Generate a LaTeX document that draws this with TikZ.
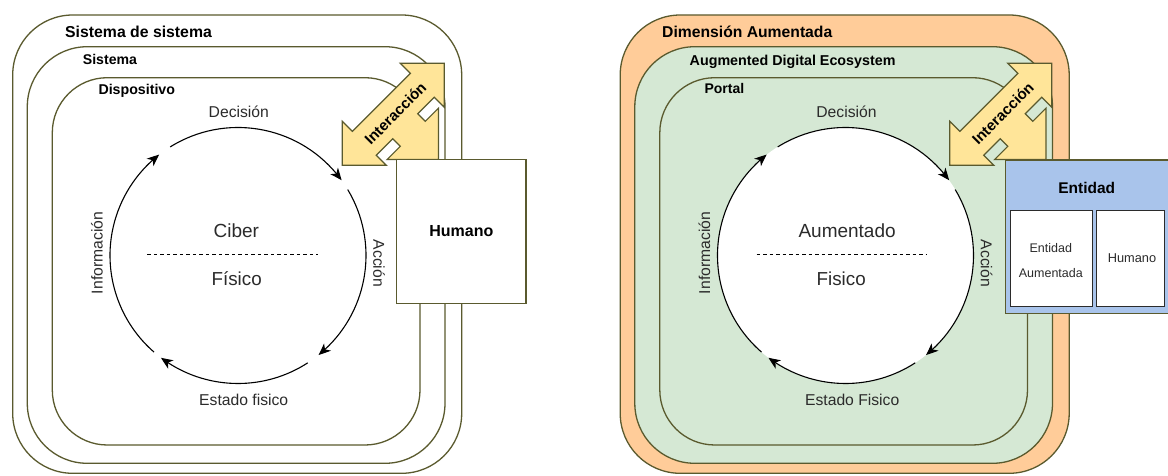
\documentclass[tikz,border=0pt]{standalone}
\usepackage{fontspec}
\setmainfont{Liberation Sans}
\usetikzlibrary{arrows.meta,bending}
\definecolor{frameol}{HTML}{5A5A2E}
\definecolor{argold}{HTML}{FFE599}
\definecolor{peach}{HTML}{FFCC99}
\definecolor{mint}{HTML}{D5E8D4}
\definecolor{skyb}{HTML}{A9C4EB}
\definecolor{txtgray}{HTML}{2B2B2B}
\newcommand\fsz[1]{\fontsize{#1pt}{#1pt}\selectfont}

\tikzset{
  % two-headed diagonal arrow with right-angled heads
  interarrow/.pic={
    \draw[fill=argold, draw=frameol, line width=1.2pt, line join=miter]
      (102,102) -- (58,102) -- (68.1,91.9) -- (10.1,33.9) -- (0,44) -- (0,0)
      -- (44,0) -- (33.9,10.1) -- (50.4,26.6) -- (58,19) -- (44.8,5.8)
      -- (96.2,5.8) -- (96.2,57.2) -- (83,44) -- (75.4,51.6) -- (91.9,68.1)
      -- (102,58) -- cycle;
    \node[rotate=45, inner sep=0pt, font=\fsz{15}\bfseries] (-txt) at (53,52) {Interacción};
  }
}

\begin{document}
\begin{tikzpicture}[x=1pt,y=1pt,
  frame/.style={draw=frameol, line width=1.3pt},
  cyc/.style={draw=black, line width=1.1pt, -{Stealth[length=12pt,width=10pt,inset=3.5pt,bend]}},
  sepline/.style={draw=black, line width=1pt, dash pattern=on 3.5pt off 3pt},
  tag/.style={anchor=base west, inner sep=0pt},
  cyctxt/.style={anchor=base, inner sep=0pt, text=txtgray},
  boxtxt/.style={inner sep=0pt, text=txtgray, font=\fontsize{12.5pt}{25pt}\selectfont, align=center}
]
\useasboundingbox (0,0) rectangle (1168,475);
\clip (0,0) rectangle (1168,475);

% ---------- left: cyber-physical system ----------
\draw[frame, fill=white, rounded corners=60pt] (12.7,1.7) rectangle (461.7,460);
\draw[frame, fill=white, rounded corners=60pt] (27.3,11.7) rectangle (445,428.3);
\draw[frame, fill=white, rounded corners=55pt] (52.3,30) rectangle (420,397.3);
\node[tag, font=\fsz{15.8}\bfseries] (l-sos) at (65,437.5) {Sistema de sistema};
\node[tag, font=\fsz{14.1}\bfseries] (l-sis) at (82.7,410) {Sistema};
\node[tag, font=\fsz{14.2}\bfseries] (l-dis) at (98.3,380) {Dispositivo};

% ---------- right: augmented dimension ----------
\draw[frame, fill=peach, rounded corners=60pt] (620.2,1.7) rectangle (1069.2,460);
\draw[frame, fill=mint, rounded corners=60pt] (634.8,11.7) rectangle (1052.5,428.3);
\draw[frame, fill=mint, rounded corners=55pt] (659.8,30) rectangle (1027.5,397.3);
\node[tag, font=\fsz{15.7}\bfseries] (r-dim) at (662,437.5) {Dimensión Aumentada};
\node[tag, font=\fsz{14.3}\bfseries] (r-ade) at (689.5,409) {Augmented Digital Ecosystem};
\node[tag, font=\fsz{14}\bfseries] (r-por) at (704.3,381) {Portal};

% ---------- cycles ----------
\coordinate (lc) at (238,219.5);
\coordinate (rc) at (845.5,219.5);
\fill[white] (rc) circle[radius=128];
\foreach \c in {lc,rc}{
  \coordinate (\c-dec) at ([shift={(122:128)}]\c);
  \coordinate (\c-acc) at ([shift={(31:128)}]\c);
  \coordinate (\c-est) at ([shift={(-57:128)}]\c);
  \coordinate (\c-inf) at ([shift={(229:128)}]\c);
  \draw[cyc] (\c-dec) arc[start angle=122, end angle=36, radius=128];
  \draw[cyc] (\c-acc) arc[start angle=31, end angle=-51, radius=128];
  \draw[cyc] (\c-est) arc[start angle=-57, end angle=-127, radius=128];
  \draw[cyc] (\c-inf) arc[start angle=229, end angle=128, radius=128];
}

% left cycle labels
\node[cyctxt, font=\fsz{15.7}] (l-tdec) at (238.8,357.7) {Decisión};
\node[cyctxt, font=\fsz{19}] (l-tup) at (236.3,237.7) {Ciber};
\node[cyctxt, font=\fsz{18.8}] (l-tlo) at (236.7,190) {Físico};
\node[cyctxt, font=\fsz{15.7}] (l-test) at (243.7,69.3) {Estado fisico};
\node[cyctxt, font=\fsz{15.7}, rotate=90] (l-tinf) at (102.7,222) {Información};
\node[cyctxt, font=\fsz{15.7}, rotate=-90] (l-tacc) at (373.3,211.7) {Acción};
\coordinate (l-s1) at (147.3,221);
\coordinate (l-s2) at (318.3,221);
\draw[sepline] (l-s1) -- (l-s2);

% right cycle labels
\node[cyctxt, font=\fsz{15.7}] (r-tdec) at (846.5,357.7) {Decisión};
\node[cyctxt, font=\fsz{19}] (r-tup) at (847.1,237.7) {Aumentado};
\node[cyctxt, font=\fsz{18.8}] (r-tlo) at (841.2,190) {Fisico};
\node[cyctxt, font=\fsz{15.7}] (r-test) at (852.2,69.3) {Estado Fisico};
\node[cyctxt, font=\fsz{15.7}, rotate=90] (r-tinf) at (710.2,222) {Información};
\node[cyctxt, font=\fsz{15.7}, rotate=-90] (r-tacc) at (980.8,211.7) {Acción};
\coordinate (r-s1) at (756.6,220.5);
\coordinate (r-s2) at (926.2,220.5);
\draw[sepline] (r-s1) -- (r-s2);

% ---------- interaction arrows ----------
\pic (la) at (342.3,309.7) {interarrow};
\pic (ra) at (949.8,309.7) {interarrow};

% ---------- human / entity ----------
\node[frame, fill=white, minimum width=129.3pt, minimum height=144pt, inner sep=0pt,
      font=\fsz{16}\bfseries] (hum) at (461.35,243.7) {Humano};

\node[frame, fill=skyb, minimum width=163.5pt, minimum height=153.4pt, inner sep=0pt,
      anchor=north west] (ent) at (1005,315.7) {};
\node[anchor=base, inner sep=0pt, font=\fsz{15.5}\bfseries] (ent-t) at (1086.7,281.7) {Entidad};
\node[draw=txtgray, fill=white, line width=1.3pt, minimum width=81.7pt, minimum height=96pt,
      inner sep=0pt, anchor=north west] (ent-a) at (1010,265) {};
\node[draw=txtgray, fill=white, line width=1.3pt, minimum width=67.5pt, minimum height=96pt,
      inner sep=0pt, anchor=north west] (ent-h) at (1096,265) {};
\node[boxtxt] (ent-at) at (1050.85,214.2) {Entidad\\Aumentada};
\node[boxtxt, font=\fsz{12.8}] (ent-ht) at (1132,216.7) {Humano};
\end{tikzpicture}
\end{document}
